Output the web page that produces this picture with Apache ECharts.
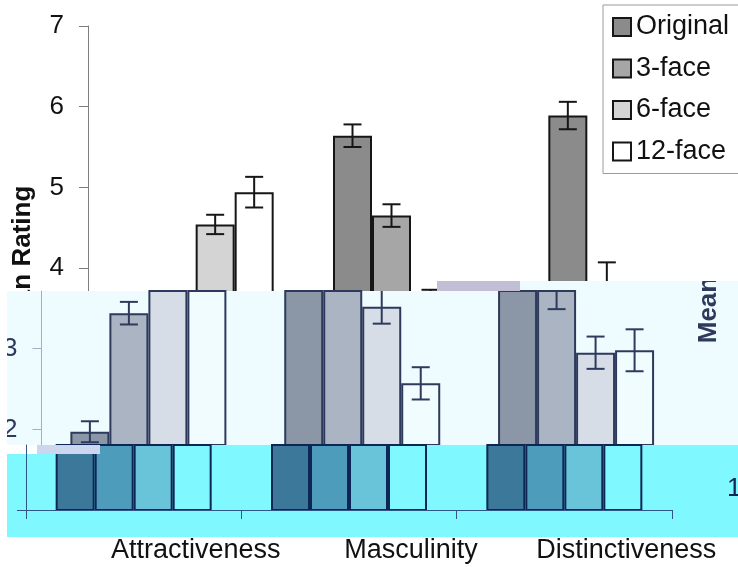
<!DOCTYPE html>
<html>
<head>
<meta charset="utf-8">
<script src="https://cdn.jsdelivr.net/npm/echarts@6/dist/echarts.min.js"></script>
<style>
  html, body { margin: 0; padding: 0; background: #ffffff; }
  #chart { width: 738px; height: 567px; }
</style>
</head>
<body>
<div id="chart"></div>
<script>
// Categories and series
const categories = ['Attractiveness', 'Masculinity', 'Distinctiveness'];
const seriesNames = ['Original', '3-face', '6-face', '12-face'];

// Mean ratings per category
const originalMean   = [1.97, 5.64, 5.89];
const threeFaceMean  = [3.44, 4.65, 3.78];
const sixFaceMean    = [4.54, 3.52, 2.95];
const twelveFaceMean = [4.94, 2.57, 2.98];

// Error bar half-lengths (standard error)
const originalErr   = [0.13, 0.14, 0.17];
const threeFaceErr  = [0.14, 0.14, 0.29];
const sixFaceErr    = [0.12, 0.21, 0.20];
const twelveFaceErr = [0.19, 0.20, 0.26];

// Value axis
const yMinValue = 1;
const yMaxValue = 7;
const yInterval = 1;
const yTickLabels = ['1', '2', '3', '4', '5', '6', '7'];

const means = [originalMean, threeFaceMean, sixFaceMean, twelveFaceMean];
const errs = [originalErr, threeFaceErr, sixFaceErr, twelveFaceErr];

const FONT = "'Liberation Sans', Arial, Helvetica, sans-serif";
const BAR_W = 39;

// Plot geometry of the main panel (value 1 at y=510, value 7 at y=26)
const PLOT_TOP = 26, PLOT_BASE = 510;
const PX_PER_UNIT = (PLOT_BASE - PLOT_TOP) / (yMaxValue - yMinValue);
const valueAtY = y => yMinValue + (PLOT_BASE - y) / PX_PER_UNIT;

// Three horizontal strips of the same chart, each with its own offset and tint
const panels = [
  {
    left: 88, right: 4, top: PLOT_TOP, bottom: 567 - PLOT_BASE,
    yMin: yMinValue, yMax: yMaxValue, ticks: null, showYLabels: true, showX: true, showXLabels: true,
    fills: ['#8b8b8b', '#a6a6a6', '#d4d4d4', '#ffffff'], border: '#161616',
    axis: '#7d7d7d', text: '#111111', z: 1
  },
  {
    left: 37, right: 55, top: 291, bottom: 567 - 445,
    yMin: valueAtY(445), yMax: valueAtY(291), ticks: [2, 3], showYLabels: true, showX: false, showXLabels: false,
    fills: ['#8b96a6', '#aab4c2', '#d6dde6', '#f1fcff'], border: '#2e3a5c',
    axis: '#a3afc6', text: '#2e3a5c', z: 11
  },
  {
    left: 26, right: 66, top: 445, bottom: 567 - PLOT_BASE,
    yMin: yMinValue, yMax: valueAtY(445), ticks: [1], showYLabels: false, showX: true, showXLabels: false,
    fills: ['#3b7899', '#4e9cbb', '#69c4d9', '#80f8ff'], border: '#0e2656',
    axis: '#2f5688', text: '#0e2656', z: 21
  }
];

const grid = [], xAxis = [], yAxis = [], series = [];

panels.forEach((p, gi) => {
  grid.push({ left: p.left, right: p.right, top: p.top, bottom: p.bottom, containLabel: false });

  xAxis.push({
    type: 'category', gridIndex: gi, data: categories, show: p.showX, z: p.z + 3,
    axisLine: { show: true, lineStyle: { color: p.axis, width: 1 } },
    axisTick: { show: true, interval: 0, length: 9, lineStyle: { color: p.axis } },
    axisLabel: {
      show: p.showXLabels, interval: 0, fontSize: 27, fontFamily: FONT, color: '#111111', margin: 27
    },
    splitLine: { show: false }
  });

  const yAx = {
    type: 'value', gridIndex: gi, min: p.yMin, max: p.yMax, z: p.z + 3,
    axisLine: { show: true, lineStyle: { color: p.axis, width: 1 } },
    axisTick: { show: true, length: 9, lineStyle: { color: p.axis } },
    axisLabel: {
      show: p.showYLabels, fontSize: 26, fontFamily: FONT, color: p.text, margin: 24,
      formatter: v => yTickLabels[Math.round(v) - yMinValue]
    },
    splitLine: { show: false }
  };
  if (p.ticks) {
    yAx.axisTick.customValues = p.ticks;
    yAx.axisLabel.customValues = p.ticks;
  } else {
    yAx.interval = yInterval;
  }
  yAxis.push(yAx);

  seriesNames.forEach((name, si) => {
    series.push({
      name: name, type: 'bar', xAxisIndex: gi, yAxisIndex: gi,
      data: means[si], barWidth: BAR_W, barGap: '0%', clip: true, z: p.z + 1,
      itemStyle: { color: p.fills[si], borderColor: p.border, borderWidth: 2 },
      emphasis: { disabled: true }, silent: true
    });
  });

  seriesNames.forEach((name, si) => {
    series.push({
      type: 'custom', xAxisIndex: gi, yAxisIndex: gi, clip: true, z: p.z + 2, silent: true,
      data: means[si].map((m, ci) => [ci, m, errs[si][ci]]),
      encode: { x: 0, y: 1 },
      renderItem: (params, api) => {
        const ci = api.value(0), m = api.value(1), e = api.value(2);
        const x = api.coord([ci, m])[0] + (si - 1.5) * BAR_W;
        const yTop = api.coord([ci, m + e])[1];
        const yBot = api.coord([ci, m - e])[1];
        const st = { stroke: p.border, lineWidth: 2 };
        return {
          type: 'group',
          children: [
            { type: 'line', shape: { x1: x, y1: yTop, x2: x, y2: yBot }, style: st },
            { type: 'line', shape: { x1: x - 9, y1: yTop, x2: x + 9, y2: yTop }, style: st },
            { type: 'line', shape: { x1: x - 9, y1: yBot, x2: x + 9, y2: yBot }, style: st }
          ]
        };
      }
    });
  });
});

const titleText = 'Mean Rating';

const option = {
  animation: false,
  backgroundColor: '#ffffff',
  grid, xAxis, yAxis, series,
  legend: {
    data: seriesNames, orient: 'vertical', left: 603, top: 5,
    padding: [7, 12, 7, 9], itemWidth: 18, itemHeight: 18, itemGap: 11.5,
    icon: 'rect', borderColor: '#9a9a9a', borderWidth: 1, selectedMode: false,
    textStyle: { fontSize: 27, color: '#111111', fontFamily: FONT, lineHeight: 30 }
  },
  graphic: [
    // axis title of the main panel
    { type: 'text', x: 23, y: 263, rotation: Math.PI / 2, z: 5,
      style: { text: titleText, fontSize: 26, fontWeight: 'bold', fontFamily: FONT, fill: '#111111',
               align: 'center', verticalAlign: 'middle' } },
    // middle strip background
    { type: 'rect', z: 10, shape: { x: 7, y: 291, width: 731, height: 154 }, style: { fill: '#effcff' } },
    { type: 'rect', z: 10, shape: { x: 520, y: 281, width: 218, height: 10 }, style: { fill: '#effcff' } },
    // axis title seen in the middle strip
    { type: 'text', x: 709, y: 266, rotation: Math.PI / 2, z: 12,
      style: { text: titleText, fontSize: 26, fontWeight: 'bold', fontFamily: FONT, fill: '#2e3a5c',
               align: 'center', verticalAlign: 'middle' } },
    { type: 'rect', z: 30, shape: { x: 683, y: 175, width: 55, height: 106 }, style: { fill: '#ffffff' } },
    // lower strip background
    { type: 'rect', z: 20, shape: { x: 7, y: 454, width: 731, height: 83 }, style: { fill: '#7ff9ff' } },
    { type: 'rect', z: 20, shape: { x: 37, y: 445, width: 701, height: 9 }, style: { fill: '#7ff9ff' } },
    // scan noise bands
    { type: 'rect', z: 30, shape: { x: 437, y: 281, width: 83, height: 10 }, style: { fill: '#c2bed6' } },
    { type: 'rect', z: 30, shape: { x: 37, y: 445, width: 63, height: 9 }, style: { fill: '#cdd6ef' } },
    // tick label seen at the right of the lower strip
    { type: 'text', x: 727, y: 489, z: 30,
      style: { text: yTickLabels[0], fontSize: 26, fontFamily: FONT, fill: '#0e2656',
               align: 'left', verticalAlign: 'middle' } },
    // blank margin at the left of the strips
    { type: 'rect', z: 30, shape: { x: 0, y: 291, width: 7, height: 246 }, style: { fill: '#ffffff' } }
  ]
};

const chart = echarts.init(document.getElementById('chart'), null, { renderer: 'canvas' });
chart.setOption(option);
</script>
</body>
</html>
